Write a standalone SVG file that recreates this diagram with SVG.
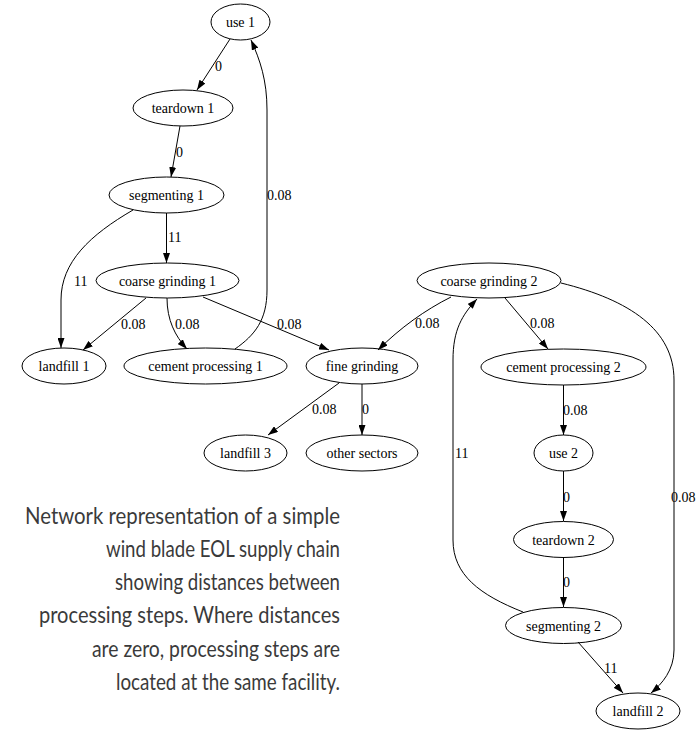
<svg xmlns="http://www.w3.org/2000/svg" width="696" height="730" viewBox="0 0 696 730">
  <style>
    .node ellipse { fill: none; stroke: #000; stroke-width: 1; }
    .node text { font-family: "Liberation Serif", "DejaVu Serif", serif; font-size: 14px; text-anchor: middle; fill: #000; }
    .edge path { fill: none; stroke: #000; stroke-width: 1; marker-end: url(#arrow); }
    .elabel { font-family: "Liberation Serif", "DejaVu Serif", serif; font-size: 14px; fill: #000; }
    .caption { font-family: Lato, "Open Sans", sans-serif; font-size: 22.5px; fill: #3a3a3a; text-anchor: end; }
  </style>
  <defs>
    <marker id="arrow" markerWidth="10" markerHeight="7" refX="10" refY="3.5" orient="auto" markerUnits="userSpaceOnUse">
      <path d="M0,0 L10,3.5 L0,7 z" fill="#000"/>
    </marker>
  </defs>
  <rect width="696" height="730" fill="#fff"/>

  <!-- connectors -->
  <g id="edges">
    <g class="edge"><path d="M230,39 L197,90"/></g>
    <g class="edge"><path d="M180,126 L171,177"/></g>
    <g class="edge"><path d="M166.5,213 L166.5,263"/></g>
    <g class="edge"><path d="M133,210 C90,235 61,262 61,300 L61,348"/></g>
    <g class="edge"><path d="M146,298 L83,350"/></g>
    <g class="edge"><path d="M167,298 C167,320 175,336 187,349"/></g>
    <g class="edge"><path d="M203,297 L329,350"/></g>
    <g class="edge"><path d="M235,349 C255,335 267,320 267,290 L267,110 C267,80 260,60 251,40"/></g>
    <g class="edge"><path d="M451,297 C425,310 400,328 378,350"/></g>
    <g class="edge"><path d="M505,298 L548,349"/></g>
    <g class="edge"><path d="M563.5,385 L563.5,435"/></g>
    <g class="edge"><path d="M563.5,471 L563.5,521"/></g>
    <g class="edge"><path d="M563.5,557 L563.5,607"/></g>
    <g class="edge"><path d="M578,642 L623,693"/></g>
    <g class="edge"><path d="M523,612 C480,595 453,575 453,540 L453,360 C453,330 462,315 477,299"/></g>
    <g class="edge"><path d="M561,283 C630,300 674,330 674,380 L674,650 C674,670 662,684 651,693"/></g>
    <g class="edge"><path d="M339,383 L268,435"/></g>
    <g class="edge"><path d="M362,384 L362,435"/></g>

    <text class="elabel" x="215" y="71">0</text>
    <text class="elabel" x="176" y="157">0</text>
    <text class="elabel" x="168" y="242">11</text>
    <text class="elabel" x="74" y="286">11</text>
    <text class="elabel" x="267" y="200">0.08</text>
    <text class="elabel" x="121" y="329">0.08</text>
    <text class="elabel" x="175" y="329">0.08</text>
    <text class="elabel" x="277" y="329">0.08</text>
    <text class="elabel" x="415" y="328">0.08</text>
    <text class="elabel" x="530" y="328">0.08</text>
    <text class="elabel" x="563" y="415">0.08</text>
    <text class="elabel" x="455" y="458">11</text>
    <text class="elabel" x="671" y="502">0.08</text>
    <text class="elabel" x="563" y="502">0</text>
    <text class="elabel" x="563" y="587">0</text>
    <text class="elabel" x="604" y="673">11</text>
    <text class="elabel" x="312" y="414">0.08</text>
    <text class="elabel" x="362" y="414">0</text>
  </g>

  <!-- nodes -->
  <g id="use1" class="node"><ellipse cx="240.5" cy="22" rx="29.5" ry="18"/><text x="240.5" y="27">use 1</text></g>
  <g id="teardown1" class="node"><ellipse cx="183" cy="108" rx="50" ry="18"/><text x="183" y="113">teardown 1</text></g>
  <g id="segmenting1" class="node"><ellipse cx="166.5" cy="195" rx="57.5" ry="18"/><text x="166.5" y="200">segmenting 1</text></g>
  <g id="coarse_grinding1" class="node"><ellipse cx="167.5" cy="280.5" rx="71.5" ry="17.5"/><text x="167.5" y="285.5">coarse grinding 1</text></g>
  <g id="landfill1" class="node"><ellipse cx="64" cy="366" rx="42" ry="18"/><text x="64" y="371">landfill 1</text></g>
  <g id="cement_processing1" class="node"><ellipse cx="205.5" cy="366" rx="81.5" ry="18"/><text x="205.5" y="371">cement processing 1</text></g>
  <g id="fine_grinding" class="node"><ellipse cx="362" cy="366" rx="56" ry="18"/><text x="362" y="371">fine grinding</text></g>
  <g id="landfill3" class="node"><ellipse cx="245.5" cy="453" rx="41.5" ry="18"/><text x="245.5" y="458">landfill 3</text></g>
  <g id="other_sectors" class="node"><ellipse cx="362" cy="453" rx="56" ry="18"/><text x="362" y="458">other sectors</text></g>
  <g id="coarse_grinding2" class="node"><ellipse cx="489" cy="280.5" rx="72" ry="17.5"/><text x="489" y="285.5">coarse grinding 2</text></g>
  <g id="cement_processing2" class="node"><ellipse cx="563.5" cy="367" rx="82.5" ry="18"/><text x="563.5" y="372">cement processing 2</text></g>
  <g id="use2" class="node"><ellipse cx="563.5" cy="453" rx="29.5" ry="18"/><text x="563.5" y="458">use 2</text></g>
  <g id="teardown2" class="node"><ellipse cx="563.5" cy="539.5" rx="50" ry="18"/><text x="563.5" y="544.5">teardown 2</text></g>
  <g id="segmenting2" class="node"><ellipse cx="563.5" cy="625.5" rx="58" ry="18"/><text x="563.5" y="630.5">segmenting 2</text></g>
  <g id="landfill2" class="node"><ellipse cx="638" cy="711" rx="42" ry="18"/><text x="638" y="716">landfill 2</text></g>

  <!-- caption -->
  <g id="caption" class="caption">
    <text x="340" y="524" textLength="315" lengthAdjust="spacingAndGlyphs">Network representation of a simple</text>
    <text x="340" y="557" textLength="234" lengthAdjust="spacingAndGlyphs">wind blade EOL supply chain</text>
    <text x="340" y="590" textLength="225" lengthAdjust="spacingAndGlyphs">showing distances between</text>
    <text x="340" y="623" textLength="301" lengthAdjust="spacingAndGlyphs">processing steps. Where distances</text>
    <text x="340" y="657" textLength="248" lengthAdjust="spacingAndGlyphs">are zero, processing steps are</text>
    <text x="340" y="690" textLength="224" lengthAdjust="spacingAndGlyphs">located at the same facility.</text>
  </g>
</svg>
